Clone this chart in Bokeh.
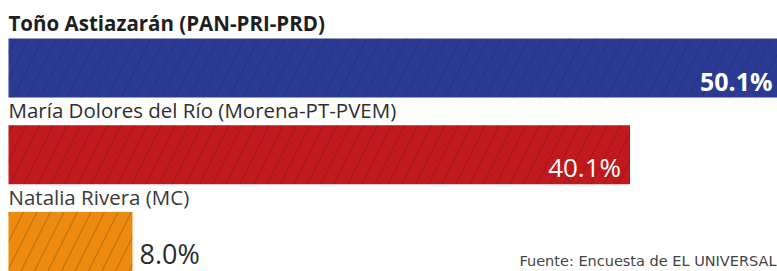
from bokeh.plotting import figure
from bokeh.models import Range1d, ColumnDataSource
from bokeh.core.properties import value
from bokeh.embed import file_html
from bokeh.resources import INLINE

# ---- data ----
candidates = ["Toño Astiazarán (PAN-PRI-PRD)",
              "María Dolores del Río (Morena-PT-PVEM)",
              "Natalia Rivera (MC)"]
percent = [50.1, 40.1, 8.0]
value_labels = ["50.1%", "40.1%", "8.0%"]
bar_colors = ["#2B3B95", "#C1191D", "#EE8A10"]
source_note = "Fuente: Encuesta de EL UNIVERSAL"

# ---- layout (pixel-like units) ----
W, H = 777, 271
LEFT_PAD = 8
PX_PER_UNIT = 15.5
ROW = 86.75
BAR_H = 59.0
FIRST_CENTER = 67.5
K = 0.3  # baseline correction factor

centers = [FIRST_CENTER + ROW * i for i in range(len(percent))]
tops = [c - BAR_H / 2 for c in centers]
bottoms = [c + BAR_H / 2 for c in centers]

p = figure(width=W, height=H, output_backend="svg", toolbar_location=None,
           x_range=Range1d(-LEFT_PAD / PX_PER_UNIT, (W - LEFT_PAD) / PX_PER_UNIT),
           y_range=Range1d(H, 0),
           min_border=0, outline_line_color=None)
p.axis.visible = False
p.grid.visible = False
p.background_fill_color = "white"
p.border_fill_color = "white"

src = ColumnDataSource(dict(y=centers, right=percent, color=bar_colors))
p.hbar(y="y", left=0, right="right", height=BAR_H, source=src,
       fill_color="color", line_color=None,
       hatch_pattern="/", hatch_scale=27, hatch_weight=0.9,
       hatch_color="#1a1a1a", hatch_alpha=0.32)

# candidate labels above bars
name_size = 20.5
label_weights = ["bold", "normal", "normal"]
label_colors = ["#1e1e1e", "#2e2e2e", "#3a3a3a"]
for i, name in enumerate(candidates):
    p.text(x=[0], y=[tops[i] - 9 - K * name_size], text=[name],
           text_font=value("Open Sans"), text_font_size=f"{name_size}px",
           text_font_style=label_weights[i], text_color=label_colors[i],
           text_baseline="alphabetic", text_align="left")

# value labels
inside = [True, True, False]
val_sizes = [25, 26, 27]
val_weights = ["bold", "normal", "normal"]
val_colors = ["white", "white", "#2a2a2a"]
x_max = (W - LEFT_PAD) / PX_PER_UNIT
for i, lab in enumerate(value_labels):
    yb = bottoms[i] - 9 - K * val_sizes[i]
    if inside[i]:
        p.text(x=[min(percent[i], x_max)], y=[yb], text=[lab],
               text_font=value("Open Sans"), text_font_size=f"{val_sizes[i]}px",
               text_font_style=val_weights[i], text_color=val_colors[i],
               text_baseline="alphabetic", text_align="right",
               x_offset=-5 if percent[i] > x_max else -9)
    else:
        p.text(x=[percent[i]], y=[yb], text=[lab],
               text_font=value("Open Sans"), text_font_size=f"{val_sizes[i]}px",
               text_font_style=val_weights[i], text_color=val_colors[i],
               text_baseline="alphabetic", text_align="left", x_offset=7)

# source note
note_size = 14.5
p.text(x=[x_max], y=[265 - K * note_size], text=[source_note],
       text_font=value("DejaVu Sans"), text_font_size=f"{note_size}px",
       text_color="#444444", text_baseline="alphabetic", text_align="right",
       x_offset=-1)

open("out.html", "w").write(file_html(p, INLINE))
